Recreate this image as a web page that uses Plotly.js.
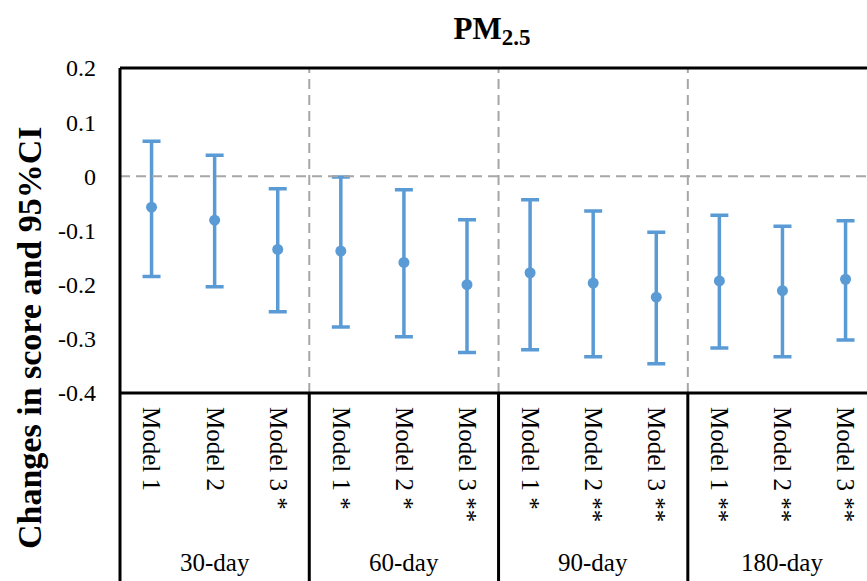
<!DOCTYPE html>
<html>
<head>
<meta charset="utf-8">
<script src="https://cdn.plot.ly/plotly-3.0.1.min.js"></script>
<style>html,body{margin:0;padding:0;overflow:hidden;background:#fff;}</style>
</head>
<body>
<div id="chart" style="width:867px;height:581px;"></div>
<script>
const categories = ['Model 1','Model 2','Model 3 *','Model 1 *','Model 2 *','Model 3 **','Model 1 *','Model 2 **','Model 3 **','Model 1 **','Model 2 **','Model 3 **'];
const groups = ['30-day','60-day','90-day','180-day'];
const estimates = [-0.057,-0.081,-0.135,-0.138,-0.159,-0.200,-0.178,-0.197,-0.223,-0.193,-0.211,-0.190];
const upperCI = [0.065,0.039,-0.023,-0.001,-0.025,-0.080,-0.043,-0.064,-0.103,-0.072,-0.092,-0.082];
const lowerCI = [-0.185,-0.204,-0.250,-0.278,-0.296,-0.325,-0.320,-0.333,-0.346,-0.317,-0.333,-0.302];
const yTickVals = [0.2,0.1,0,-0.1,-0.2,-0.3,-0.4];
const yTickText = ['0.2','0.1','0','-0.1','-0.2','-0.3','-0.4'];

const xIdx = categories.map((c,i)=>i);
const xMin = -0.5, xMax = 11.34;
const perGroup = 3;
const px = v => (v - xMin)/(xMax - xMin);
const blue = '#5B9BD5';
const serif = 'Liberation Serif';

const trace = {
  type:'scatter', mode:'markers',
  x: xIdx, y: estimates,
  marker:{color:blue, size:11},
  error_y:{type:'data', symmetric:false,
    array: upperCI.map((u,i)=>u-estimates[i]),
    arrayminus: lowerCI.map((l,i)=>estimates[i]-l),
    color:blue, thickness:3.5, width:9},
  cliponaxis:false, hoverinfo:'skip'
};

const shapes = [];
shapes.push({type:'line', xref:'paper', yref:'y', x0:0, x1:1, y0:0, y1:0,
  line:{color:'#A6A6A6', width:2, dash:'10px,6px'}});
for (let g=1; g<groups.length; g++){
  const xp = px(g*perGroup - 0.5);
  shapes.push({type:'line', xref:'paper', yref:'paper', x0:xp, x1:xp, y0:0, y1:1,
    line:{color:'#A6A6A6', width:2, dash:'10px,6px'}});
  shapes.push({type:'line', xref:'paper', yref:'paper', x0:xp, x1:xp, y0:0, y1:-0.6,
    line:{color:'#000', width:3}});
}
shapes.push({type:'line', xref:'paper', yref:'paper', x0:0, x1:1, y0:1, y1:1, line:{color:'#000', width:3}});
shapes.push({type:'line', xref:'paper', yref:'paper', x0:0, x1:1, y0:0, y1:0, line:{color:'#000', width:3}});
shapes.push({type:'line', xref:'paper', yref:'paper', x0:0, x1:0, y0:1, y1:-0.6, line:{color:'#000', width:3}});

const annotations = groups.map((g,i)=>({
  text:g, xref:'x', yref:'paper', x:i*perGroup+1, y:-0.523, yanchor:'middle', xanchor:'center',
  showarrow:false, font:{family:serif, size:25, color:'#000'}
}));
annotations.push({
  text:'<b>Changes in score and 95%CI</b>', textangle:-90,
  xref:'paper', yref:'paper', x:(29-120)/747, y:(393-338)/325, xanchor:'center', yanchor:'middle',
  showarrow:false, font:{family:serif, size:34, color:'#000'}
});

const layout = {
  width:867, height:581,
  margin:{l:120, r:0, t:68, b:188},
  paper_bgcolor:'#fff', plot_bgcolor:'#fff',
  showlegend:false,
  font:{family:serif, color:'#000'},
  title:{text:'<b>PM<sub><span style="font-size:23px">2.5</span></sub></b>', font:{family:serif, size:31, color:'#000'},
    xref:'container', x:492/867, xanchor:'center', yref:'container', y:1-28/581, yanchor:'middle'},
  xaxis:{type:'linear', range:[xMin, xMax], tickvals:xIdx, ticktext:categories, tickangle:90,
    showgrid:false, zeroline:false, showline:false, ticks:'', ticklabelstandoff:13,
    tickfont:{family:serif, size:25, color:'#000'}, fixedrange:true},
  yaxis:{range:[-0.4,0.2], tickvals:yTickVals, ticktext:yTickText, showgrid:false, zeroline:false,
    showline:false, ticks:'', ticklabelstandoff:23,
    tickfont:{family:serif, size:24, color:'#000'}, fixedrange:true},
  shapes:shapes,
  annotations:annotations
};
Plotly.newPlot('chart',[trace],layout,{displayModeBar:false, staticPlot:true});
</script>
</body>
</html>
